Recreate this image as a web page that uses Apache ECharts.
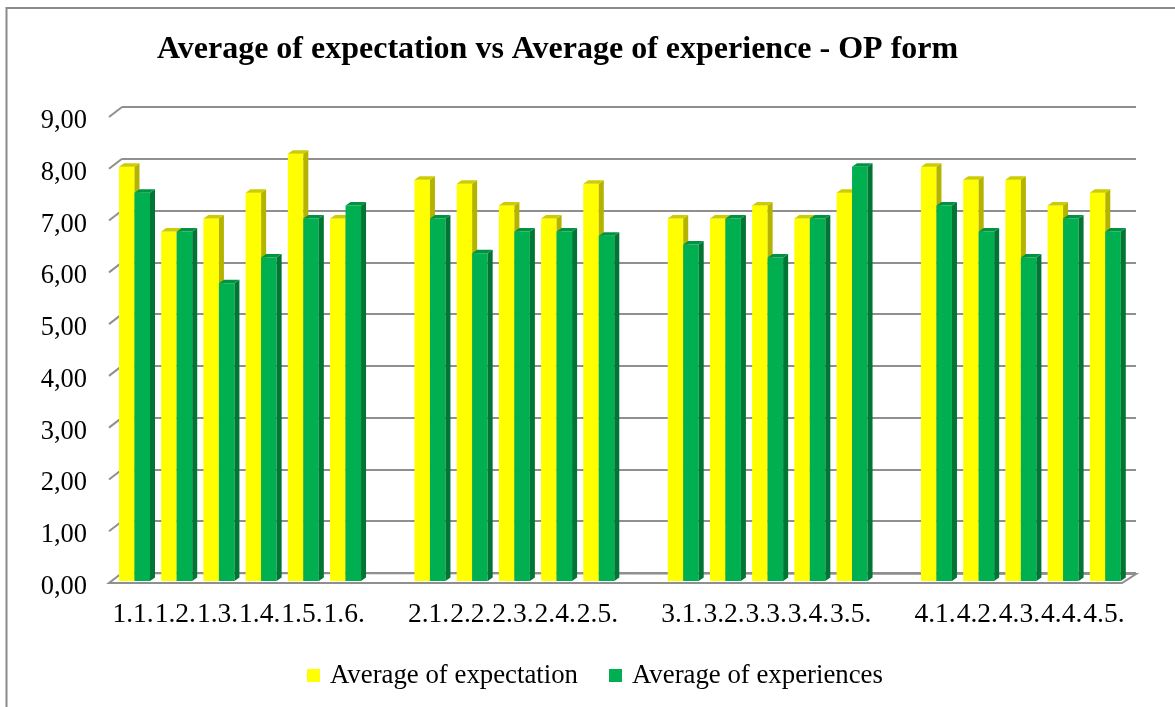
<!DOCTYPE html>
<html>
<head>
<meta charset="utf-8">
<script src="https://cdn.jsdelivr.net/npm/echarts@6/dist/echarts.min.js"></script>
<style>
html,body{margin:0;padding:0;background:#fff;}
#chart{width:1175px;height:707px;}
</style>
</head>
<body>
<div id="chart"></div>
<script>
const categories = ['1.1.','1.2.','1.3.','1.4.','1.5.','1.6.','',
  '2.1.','2.2.','2.3.','2.4.','2.5.','',
  '3.1.','3.2.','3.3.','3.4.','3.5.','',
  '4.1.','4.2.','4.3.','4.4.','4.5.'];
const expectation = [8.00,6.75,7.00,7.50,8.25,7.00,null,
  7.75,7.67,7.25,7.00,7.67,null,
  7.00,7.00,7.25,7.00,7.50,null,
  8.00,7.75,7.75,7.25,7.50];
const experiences = [7.50,6.75,5.75,6.25,7.00,7.25,null,
  7.00,6.33,6.75,6.75,6.67,null,
  6.50,7.00,6.25,7.00,8.00,null,
  7.25,6.75,6.25,7.00,6.75];
const yTicks = [0,1,2,3,4,5,6,7,8,9];
const seriesNames = ['Average of expectation','Average of experiences'];

const FONT = '"Liberation Serif","Times New Roman",serif';
const DEPTH_X = 13, DEPTH_Y = -10;

function toPairs(arr){
  const out = [];
  arr.forEach((v,i)=>{ if(v!==null) out.push([i,v]); });
  return out;
}

function barRender(side, cols){
  return function(params, api){
    const i = api.value(0), v = api.value(1);
    const p = api.coord([i, v]);
    const p0 = api.coord([i, 0]);
    const w = 15.5, dx = 5, dy = -3.5;
    const cx = p[0] + 4.4;
    const x0 = side === 0 ? cx - w : cx;
    const x1 = x0 + w;
    const yt = p[1] - 2, yb = p0[1] - 2;
    return {type:'group', children:[
      {type:'rect', shape:{x:x0, y:yt, width:w, height:yb-yt}, style:{fill:cols[0]}},
      {type:'polygon', shape:{points:[[x1,yt],[x1+dx,yt+dy],[x1+dx,yb+dy],[x1,yb]]}, style:{fill:cols[1]}},
      {type:'polygon', shape:{points:[[x0,yt],[x0+dx,yt+dy],[x1+dx,yt+dy],[x1,yt]]}, style:{fill:cols[2]}}
    ]};
  };
}

function decorRender(params, api){
  const v = api.value(1);
  const cs = params.coordSys;
  const y = api.coord([0, v])[1];
  const L = cs.x, R = cs.x + cs.width;
  if (v === 0){
    return {type:'polygon', shape:{points:[[L,y],[R,y],[R+DEPTH_X+1,y+DEPTH_Y+1],[L+DEPTH_X,y+DEPTH_Y]]},
      style:{fill:'#ffffff', stroke:'#8f8f8f', lineWidth:2}};
  }
  return {type:'line', shape:{x1:L, y1:y, x2:L+DEPTH_X, y2:y+DEPTH_Y},
    style:{stroke:'#8f8f8f', lineWidth:2}};
}

const chart = echarts.init(document.getElementById('chart'));
chart.setOption({
  animation:false,
  backgroundColor:'#ffffff',
  title:{
    text:'Average of expectation vs Average of experience - OP form',
    left:157, top:34, padding:0,
    textStyle:{fontFamily:FONT, fontWeight:'bold', fontSize:32, color:'#000'}
  },
  graphic:[{type:'rect', shape:{x:6.5, y:8, width:1300, height:900},
    style:{fill:'none', stroke:'#8a8a8a', lineWidth:2}, z:100}],
  legend:{
    data:seriesNames.map(n=>({name:n, icon:'rect'})),
    left:307, top:662, padding:0, itemGap:31, itemWidth:13, itemHeight:13,
    textStyle:{fontFamily:FONT, fontSize:26.8, color:'#000', padding:[0,0,0,5]}
  },
  grid:[
    {left:109, top:117, width:1013, height:466},
    {left:122, top:107, width:1014, height:466}
  ],
  xAxis:[
    {type:'category', gridIndex:0, data:categories, boundaryGap:true,
     axisLine:{show:false}, axisTick:{show:false},
     axisLabel:{interval:0, hideOverlap:false, margin:18, fontFamily:FONT, fontSize:27.5, color:'#000', padding:[0,0,0,6]}},
    {type:'category', gridIndex:1, data:categories, show:false}
  ],
  yAxis:[
    {type:'value', gridIndex:0, min:0, max:9, interval:1,
     axisLine:{show:false}, axisTick:{show:false}, splitLine:{show:false},
     axisLabel:{margin:22, color:'#000',
       formatter:v=>'{a|' + v.toFixed(2).replace('.',',') + '}',
       rich:{a:{fontFamily:FONT, fontSize:26.5, color:'#000', padding:[8,0,0,0]}}}},
    {type:'value', gridIndex:1, min:0, max:9, interval:1,
     axisLine:{show:false}, axisTick:{show:false}, axisLabel:{show:false},
     splitLine:{show:true, lineStyle:{color:'#8f8f8f', width:2}}}
  ],
  series:[
    {type:'custom', name:'decor', xAxisIndex:0, yAxisIndex:0, silent:true, z:1,
     data:yTicks.map(v=>[0,v]), renderItem:decorRender, encode:{x:0,y:1}},
    {type:'custom', name:seriesNames[0], xAxisIndex:0, yAxisIndex:0, z:2,
     itemStyle:{color:'#FFFF00'},
     data:toPairs(expectation), encode:{x:0,y:1},
     renderItem:barRender(0, ['#FFFF00','#B3B300','#CCCC00'])},
    {type:'custom', name:seriesNames[1], xAxisIndex:0, yAxisIndex:0, z:3,
     itemStyle:{color:'#00B050'},
     data:toPairs(experiences), encode:{x:0,y:1},
     renderItem:barRender(1, ['#00B050','#007534','#009442'])}
  ]
});
</script>
</body>
</html>
